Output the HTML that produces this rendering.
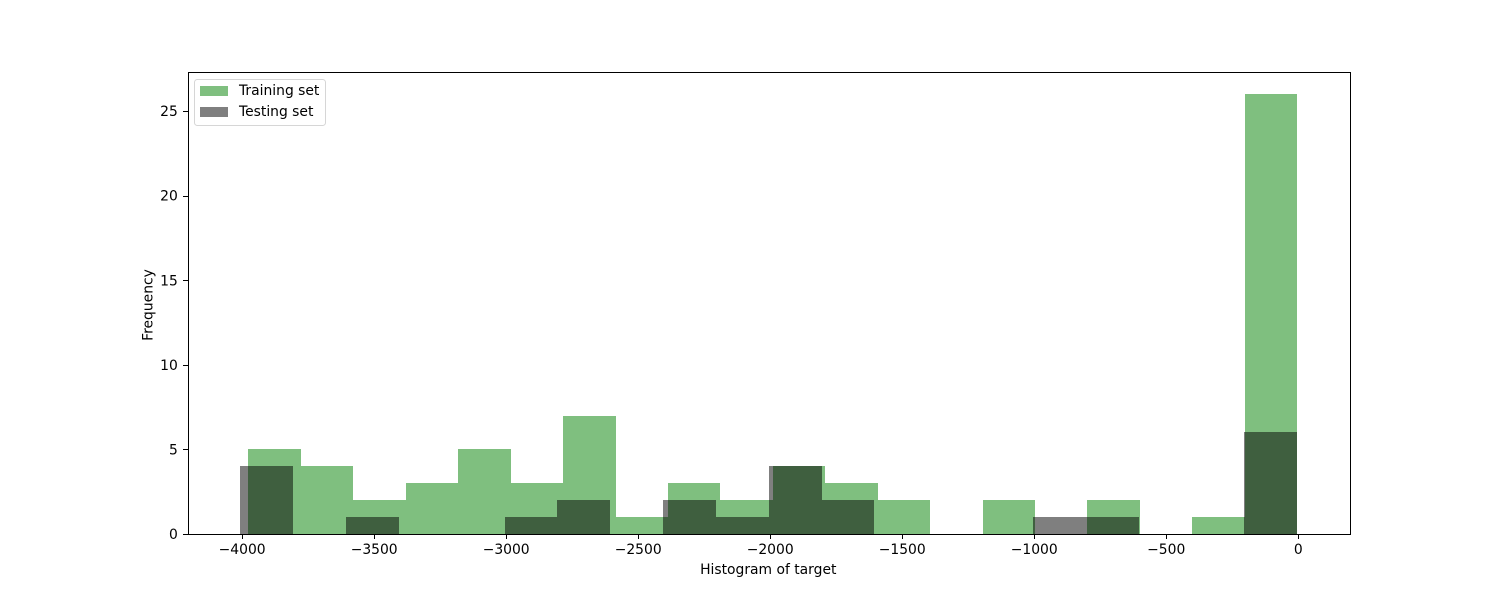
<!DOCTYPE html>
<html>
<head>
<meta charset="utf-8">
<title>Histogram of target</title>
<style>
html,body{margin:0;padding:0;background:#fff;width:1500px;height:600px;overflow:hidden}
svg{display:block}
text{font-family:"DejaVu Sans","Liberation Sans",sans-serif;font-size:13.89px;fill:#000}
</style>
</head>
<body>
<svg id="chart" xmlns="http://www.w3.org/2000/svg" width="1500" height="600" viewBox="0 0 1500 600"></svg>
<script>
const trainBinEdges = [-3976.2, -3777.58, -3578.96, -3380.34, -3181.72, -2983.1, -2784.48, -2585.86, -2387.24, -2188.62, -1990, -1791.38, -1592.76, -1394.14, -1195.52, -996.9, -798.28, -599.66, -401.04, -202.42, -3.8];
const trainCounts = [5, 4, 2, 3, 5, 3, 7, 1, 3, 2, 4, 3, 2, 0, 2, 0, 2, 0, 1, 26];
const testBinEdges = [-4006.9, -3806.76, -3606.62, -3406.48, -3206.34, -3006.2, -2806.06, -2605.92, -2405.78, -2205.64, -2005.5, -1805.36, -1605.22, -1405.08, -1204.94, -1004.8, -804.66, -604.52, -404.38, -204.24, -4.1];
const testCounts = [4, 0, 1, 0, 0, 1, 2, 0, 2, 1, 4, 2, 0, 0, 0, 1, 1, 0, 0, 6];
const xTicks = [-4000, -3500, -3000, -2500, -2000, -1500, -1000, -500, 0];
const yTicks = [0, 5, 10, 15, 20, 25];
const xDomain = [-4207, 196];
const yDomain = [0, 27.3];

const NS = 'http://www.w3.org/2000/svg';
const svg = document.getElementById('chart');
const plot = { left: 187.5, right: 1350, top: 72, bottom: 534 };

function xScale(v) {
  return plot.left + (v - xDomain[0]) / (xDomain[1] - xDomain[0]) * (plot.right - plot.left);
}
function yScale(v) {
  return plot.bottom - (v - yDomain[0]) / (yDomain[1] - yDomain[0]) * (plot.bottom - plot.top);
}
function snap(v) {
  return Math.round(v) + 0.5;
}
function fmt(v) {
  return v < 0 ? '\u2212' + Math.abs(v) : String(v);
}
function make(tag, attrs, text) {
  const el = document.createElementNS(NS, tag);
  for (const k in attrs) el.setAttribute(k, attrs[k]);
  if (text !== undefined) el.textContent = text;
  svg.appendChild(el);
  return el;
}
function barAttrs(edgeLo, edgeHi, count, color) {
  const x0 = Math.round(xScale(edgeLo));
  const x1 = Math.round(xScale(edgeHi));
  const top = Math.round(yScale(count));
  const base = Math.round(yScale(0));
  return { x: x0, y: top, width: x1 - x0, height: base - top, fill: color, 'fill-opacity': 0.5, 'shape-rendering': 'crispEdges' };
}

// Plot background
const bg = make('rect', { x: plot.left, y: plot.top, width: plot.right - plot.left, height: plot.bottom - plot.top, fill: '#fff' });



// Training bars
trainCounts.forEach(function (c, i) {
  const bar = make('rect', barAttrs(trainBinEdges[i], trainBinEdges[i + 1], c, '#008000'));
  
  
});

// Testing bars
testCounts.forEach(function (c, i) {
  const bar = make('rect', barAttrs(testBinEdges[i], testBinEdges[i + 1], c, '#000'));
  
  
});

// X ticks
xTicks.forEach(function (v) {
  const px = snap(xScale(v));
  const tick = make('line', { x1: px, x2: px, y1: 535, y2: 539, stroke: '#000', 'stroke-width': 1, 'shape-rendering': 'crispEdges' });
  
  
  const label = make('text', { x: xScale(v), y: 554, 'text-anchor': 'middle' }, fmt(v));
  
  
});

// Y ticks
yTicks.forEach(function (v) {
  const py = snap(yScale(v));
  const tick = make('line', { x1: 183, x2: 188, y1: py, y2: py, stroke: '#000', 'stroke-width': 1, 'shape-rendering': 'crispEdges' });
  
  
  const label = make('text', { x: 177.8, y: yScale(v) + 5.2, 'text-anchor': 'end' }, fmt(v));
  
  
});

// Spines
const frame = make('rect', { x: 188.5, y: 72.5, width: 1162, height: 462, fill: 'none', stroke: '#000', 'stroke-width': 1, 'shape-rendering': 'crispEdges' });



// Axis titles
const xTitle = make('text', { x: 768.25, y: 574, 'text-anchor': 'middle' }, 'Histogram of target');


const yTitle = make('text', { x: 0, y: 0, 'text-anchor': 'middle', transform: 'translate(152.5 305) rotate(-90)' }, 'Frequency');



// Legend
const legendBox = make('rect', { x: 194.5, y: 79.5, width: 131, height: 46, rx: 2.8, ry: 2.8, fill: '#fff', 'fill-opacity': 0.8, stroke: '#ccc', 'stroke-opacity': 0.8, 'stroke-width': 1 });


const trainSwatch = make('rect', { x: 200, y: 86, width: 28, height: 10, fill: '#008000', 'fill-opacity': 0.5 });


const trainLabel = make('text', { x: 239, y: 95 }, 'Training set');


const testSwatch = make('rect', { x: 200, y: 107, width: 28, height: 10, fill: '#000', 'fill-opacity': 0.5 });


const testLabel = make('text', { x: 239, y: 116 }, 'Testing set');


</script>
</body>
</html>
